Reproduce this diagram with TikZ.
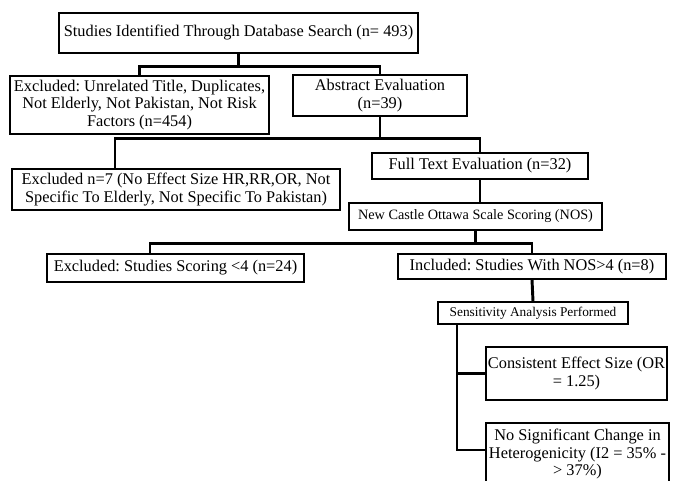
\documentclass[tikz,border=0pt]{standalone}
\usepackage{fontspec}
\setmainfont{Liberation Serif}
\frenchspacing
\begin{document}
\begin{tikzpicture}[x=0.75pt,y=-0.75pt,
  box/.style={draw, line width=1pt, inner sep=0pt, align=center, font=\fontsize{12.25}{13.2}\selectfont},
  bw/.style={minimum width={#1*0.75pt}},
  bh/.style={minimum height={#1*0.75pt}},
  link/.style={line width=2.2pt}]
\useasboundingbox (0,0) rectangle (675,481);
\clip (0,0) rectangle (675,481);
\node[box,bw=359,bh=40] (top) at (238.5,33) {Studies Identified Through Database Search (n= 493)};
\node[box,bw=259,bh=58] (ex1) at (139.5,105) {Excluded: Unrelated Title, Duplicates,\\Not Elderly, Not Pakistan, Not Risk\\Factors (n=454)};
\node[box,bw=174,bh=41] (abs) at (380,95.5) {Abstract Evaluation\\(n=39)};
\node[box,bw=328,bh=41] (ex2) at (176,189.5) {Excluded n=7 (No Effect Size HR,RR,OR, Not\\Specific To Elderly, Not Specific To Pakistan)};
\node[box,bw=216,bh=26] (full) at (480,166) {Full Text Evaluation (n=32)};
\node[box,bw=253,bh=27,font=\fontsize{10.7}{12}\selectfont] (nos) at (475.5,216.5) {New Castle Ottawa Scale Scoring (NOS)};
\node[box,bw=257,bh=28] (ex3) at (175.5,268) {Excluded: Studies Scoring <4 (n=24)};
\node[box,bw=268,bh=25] (inc) at (532,266.5) {Included: Studies With NOS>4 (n=8)};
\node[box,bw=190,bh=22,font=\fontsize{10}{11}\selectfont] (sens) at (533,313) {Sensitivity Analysis Performed};
\node[box,bw=181,bh=53] (cons) at (576.5,373.5) {Consistent Effect Size (OR\\= 1.25)};
\node[box,bw=183,bh=62] (nsig) at (577.5,454) {No Significant Change in\\Heterogenicity (I2 = 35\% -\\> 37\%)};
\coordinate (e2t) at (115,169);
\coordinate (e3t) at (150,254);
\coordinate (s0) at (457,324);
\coordinate (n0) at (486,450);
\draw[link] (top.south) -- ++(0,13) coordinate (j1) -| (ex1.north);
\draw[link] (j1) -| (abs.north);
\draw[link] (abs.south) -- ++(0,22) coordinate (j2) -| (e2t);
\draw[link] (j2) -| (full.north);
\draw[link] (full.south) -- (nos.north -| full.south);
\draw[link] (nos.south) -- ++(0,12.5) coordinate (j4) -| (e3t);
\draw[link] (j4) -| (inc.north);
\draw[link] (inc.south) -- (sens.north);
\draw[link] (s0) |- (cons.west);
\draw[link] (s0) |- (n0);
\end{tikzpicture}
\end{document}
